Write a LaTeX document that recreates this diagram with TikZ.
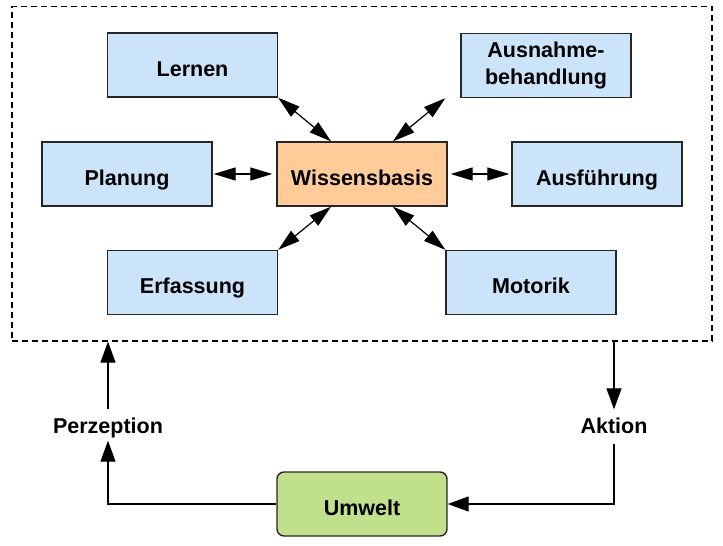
\documentclass[tikz,border=0pt]{standalone}
\usepackage{fontspec}
\setmainfont{Liberation Sans}
\usetikzlibrary{arrows.meta}
\definecolor{boxblue}{RGB}{203,228,249}
\definecolor{boxorange}{RGB}{255,204,153}
\definecolor{boxgreen}{RGB}{192,224,140}
\begin{document}
\begin{tikzpicture}[x=1pt, y=-1pt,
    font=\fontsize{21.5}{26.5}\selectfont\bfseries,
    box/.style={draw=black!85, line width=1.4pt, minimum width=170pt, minimum height=64pt, inner sep=0pt, align=center, text height=22pt, text depth=0pt},
    dbl/.style={{Triangle[length=22pt,width=13pt]}-{Triangle[length=22pt,width=13pt]}, line width=1.2pt},
    fwd/.style={-{Triangle[length=21pt,width=15pt]}, line width=1.2pt},
    lbl/.style={inner xsep=0pt, inner ysep=2pt, text height=16pt, text depth=5pt}]
    \useasboundingbox (0,0) rectangle (723,546);

    % system frame
    \node[draw, dashed, dash pattern=on 6pt off 4pt, line width=1.2pt, minimum width=700pt, minimum height=334.5pt, inner sep=0pt] (frame) at (362,173.75) {};

    \node[box, fill=boxorange] (wissen) at (362,174) {Wissensbasis};
    \node[box, fill=boxblue] (lernen) at (192.5,65) {Lernen};
    \node[box, fill=boxblue, text height={}, text depth={}] (ausnahme) at (546,65.5) {Ausnahme-\\behandlung};
    \node[box, fill=boxblue] (planung) at (127,174) {Planung};
    \node[box, fill=boxblue] (ausfuehrung) at (597,174) {Ausführung};
    \node[box, fill=boxblue] (erfassung) at (192.5,282.5) {Erfassung};
    \node[box, fill=boxblue] (motorik) at (531,282.5) {Motorik};

    \node[box, fill=boxgreen, rounded corners=7pt] (umwelt) at (362,504) {Umwelt};
    \node[lbl] (perzeption) at (108,428) {Perzeption};
    \node[lbl] (aktion) at (614,428) {Aktion};

    % links to the knowledge base
    \draw[dbl] (lernen.south east) -- ([xshift=-31pt]wissen.north);
    \draw[dbl] ([xshift=-15pt]ausnahme.south west) -- ([xshift=31pt]wissen.north);
    \draw[dbl, shorten <=1pt, shorten >=4pt] (planung) -- (wissen);
    \draw[dbl, shorten <=3pt, shorten >=2pt] (wissen) -- (ausfuehrung);
    \draw[dbl] (erfassung.north east) -- ([xshift=-31pt]wissen.south);
    \draw[dbl] ([xshift=31pt]wissen.south) -- (motorik.north west);

    % feedback loop
    \draw[fwd] (umwelt.west) -| (perzeption.south);
    \draw[fwd, shorten <=6pt] (perzeption.north) -- (frame.south -| perzeption.north);
    \draw[fwd, shorten >=6pt] (frame.south -| aktion.north) -- (aktion.north);
    \draw[fwd, shorten <=3pt] (aktion.south) |- (umwelt.east);
\end{tikzpicture}
\end{document}
